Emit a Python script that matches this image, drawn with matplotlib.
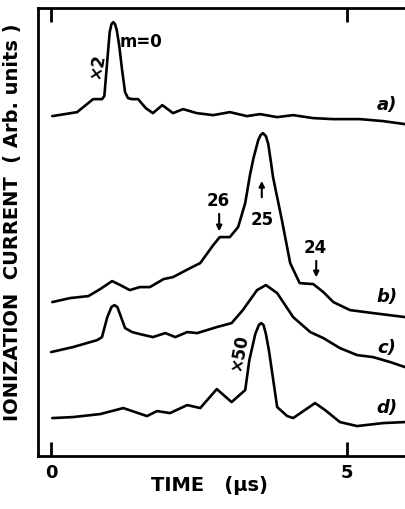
import matplotlib.pyplot as plt

# time axis in microseconds, signal in arbitrary units (offset per trace)
t_a = [0.02, 0.44, 0.71, 0.86, 0.90, 0.95, 0.99, 1.02, 1.05, 1.08, 1.11, 1.15, 1.20, 1.25,
       1.30, 1.37, 1.47, 1.60, 1.72, 1.88, 2.06, 2.23, 2.46, 2.74, 3.02, 3.31, 3.53, 3.82,
       4.09, 4.43, 4.77, 5.22, 5.61, 5.98]
i_a = [340, 344, 357, 357, 360, 396, 424, 432, 434, 432, 426, 411, 386, 364,
       358, 357, 357, 348, 343, 351, 343, 347, 343, 341, 344, 340, 342, 339,
       341, 338, 337, 337, 335, 332]

t_b = [0.02, 0.32, 0.63, 0.83, 1.03, 1.17, 1.33, 1.50, 1.67, 1.90, 2.06, 2.35, 2.52, 2.74,
       2.85, 3.02, 3.16, 3.28, 3.36, 3.42, 3.50, 3.54, 3.58, 3.63, 3.67, 3.71, 3.75, 3.90,
       4.04, 4.20, 4.43, 4.60, 4.77, 5.05, 5.44, 5.98]
i_b = [154, 158, 160, 167, 175, 171, 166, 169, 169, 177, 179, 188, 193, 211,
       219, 219, 229, 253, 281, 298, 316, 321, 323, 320, 312, 296, 279, 236,
       193, 173, 172, 164, 154, 146, 143, 139]

t_c = [0.00, 0.37, 0.78, 0.86, 0.95, 1.02, 1.07, 1.12, 1.17, 1.25, 1.37, 1.50, 1.72, 1.93,
       2.10, 2.30, 2.47, 2.80, 3.05, 3.24, 3.48, 3.63, 3.82, 4.09, 4.38, 4.60, 4.88, 5.17,
       5.44, 5.73, 5.98]
i_c = [104, 109, 116, 119, 139, 149, 151, 149, 141, 128, 124, 122, 119, 123,
       119, 124, 123, 129, 133, 146, 166, 171, 163, 139, 124, 118, 108, 101,
       99, 94, 89]

t_d = [0.02, 0.37, 0.83, 1.22, 1.62, 1.79, 2.01, 2.30, 2.52, 2.80, 3.05, 3.28, 3.35, 3.45,
       3.51, 3.55, 3.59, 3.63, 3.68, 3.82, 3.99, 4.09, 4.46, 4.63, 4.88, 5.17, 5.61, 5.98]
i_d = [38, 39, 42, 48, 40, 45, 43, 51, 48, 67, 54, 66, 96, 122,
       131, 133, 131, 122, 106, 49, 40, 38, 53, 46, 34, 30, 33, 34]

traces = [(t_a, i_a, 'a)'), (t_b, i_b, 'b)'), (t_c, i_c, 'c)'), (t_d, i_d, 'd)')]
label_pos = [351, 159, 108, 48]

plt.rcParams['font.family'] = ['Liberation Sans Narrow', 'DejaVu Sans']
plt.rcParams['font.weight'] = 'bold'

fig = plt.figure(figsize=(4.05, 5.09), dpi=100)
ax = fig.add_axes([0.094, 0.104, 0.906, 0.880])

for (t, i, name), ly in zip(traces, label_pos):
    ax.plot(t, i, color='black', lw=1.9, solid_joinstyle='round', solid_capstyle='round')
    ax.text(5.68, ly, name, fontsize=13, fontstyle='italic', fontweight='bold',
            ha='center', va='center')

# peak annotations
ax.text(1.52, 414, 'm=0', fontsize=12, ha='center', va='center')
ax.text(0.78, 391, '×2', fontsize=12, ha='center', va='center', rotation=80)
ax.text(3.18, 104, '×50', fontsize=12, ha='center', va='center', rotation=80)
ax.text(2.83, 255, '26', fontsize=12, ha='center', va='center')
ax.text(3.56, 236, '25', fontsize=12, ha='center', va='center')
ax.text(4.46, 208, '24', fontsize=12, ha='center', va='center')
arrow = dict(arrowstyle='-|>', color='black', lw=1.5, mutation_scale=8)
ax.annotate('', xy=(2.84, 222), xytext=(2.84, 245), arrowprops=arrow)
ax.annotate('', xy=(3.56, 278), xytext=(3.56, 256), arrowprops=arrow)
ax.annotate('', xy=(4.48, 176), xytext=(4.48, 198), arrowprops=arrow)

ax.set_xlim(-0.22, 5.98)
ax.set_ylim(0, 448)
ax.spines['right'].set_visible(False)
for s in ['left', 'top', 'bottom']:
    ax.spines[s].set_linewidth(2)
ax.set_yticks([])
ax.set_xticks([0, 5])
ax.set_xticklabels(['0', '5'], fontsize=13, fontweight='bold')
ax.tick_params(axis='x', direction='in', length=10, width=2, top=True, pad=6)

fig.text(0.518, 0.047, 'TIME   (µs)', fontsize=14, ha='center', va='center')
fig.text(0.03, 0.564, 'IONIZATION  CURRENT  ( Arb. units )', fontsize=14,
         rotation=90, ha='center', va='center')

plt.savefig('out.png')
